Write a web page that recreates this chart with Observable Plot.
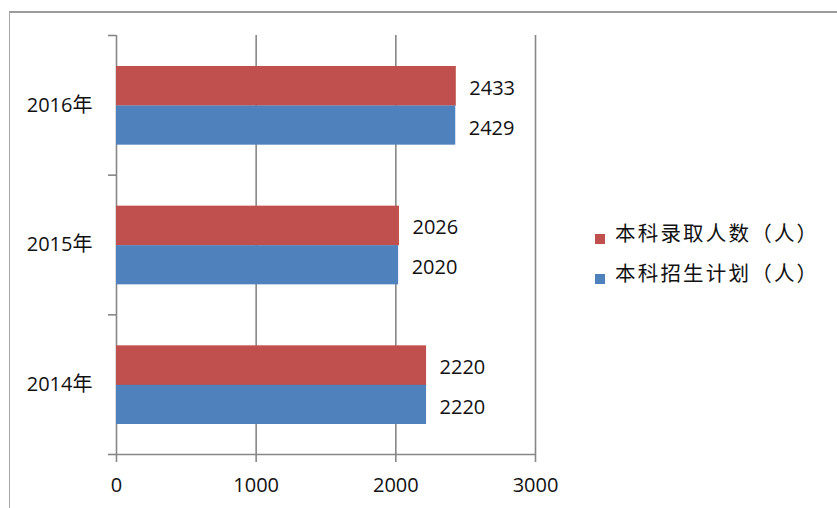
<!DOCTYPE html>
<html>
<head>
<meta charset="utf-8">
<script src="https://cdn.jsdelivr.net/npm/d3@7"></script>
<script src="https://cdn.jsdelivr.net/npm/@observablehq/plot@0.6"></script>
<style>
  html, body { margin: 0; padding: 0; background: #fff; }
  #wrap { position: relative; width: 837px; height: 508px; overflow: hidden; }
  #frame { position: absolute; left: 9px; top: 11px; right: -4px; bottom: -4px;
           border-top: 2px solid #9c9c9c; border-left: 1.5px solid #a6a6a6; }
  #chart { position: absolute; left: 0; top: 0; }
  #legend { position: absolute; left: 595px; top: 219px;
            font-family: "Noto Sans CJK SC", sans-serif; font-size: 20.5px; color: #111; letter-spacing: 2.2px; }
  .item { display: flex; align-items: flex-end; height: 28px; margin-bottom: 12px; }
  .sw { width: 10px; height: 10px; margin-right: 10px; margin-bottom: 3px; flex: none; }
</style>
</head>
<body>
<div id="wrap">
  <div id="frame"></div>
  <div id="chart"></div>
  <div id="legend"></div>
</div>
<script>
// ---- data ----
const years = [2014, 2015, 2016];
const admitted = [2220, 2026, 2433];   // 本科录取人数（人）
const planned = [2220, 2020, 2429];    // 本科招生计划（人）
const seriesNames = ["本科录取人数（人）", "本科招生计划（人）"];
const seriesColors = ["#C0504D", "#4F81BD"];
const xTicks = [0, 1000, 2000, 3000];
const yearSuffix = "年";

// table built from the arrays
const rows = years.map((year, i) => ({year, admitted: admitted[i], planned: planned[i]}));
const bounds = [years[0] - 0.5, ...years.map(y => y + 0.5)];
const grid = "#878787";

const chart = Plot.plot({
  width: 837,
  height: 508,
  marginLeft: 116,
  marginRight: 302,
  marginTop: 35,
  marginBottom: 54,
  x: {domain: [xTicks[0], xTicks[xTicks.length - 1]]},
  y: {domain: [bounds[0], bounds[bounds.length - 1]]},
  style: {
    fontFamily: "'Open Sans', 'Noto Sans CJK SC', sans-serif",
    fontSize: "20px",
    color: "#111",
    background: "transparent",
    overflow: "visible"
  },
  marks: [
    Plot.ruleX(xTicks, {stroke: grid, strokeWidth: 1.6}),
    Plot.ruleY([bounds[0]], {stroke: grid, strokeWidth: 1.6}),
    Plot.axisY(bounds, {tickSize: 8, tickFormat: () => "", label: null, stroke: grid, strokeWidth: 1.6, strokeOpacity: 1}),
    Plot.axisY(years, {tickSize: 0, tickPadding: 24, label: null, tickFormat: d => d + yearSuffix, fill: "#111"}),
    Plot.axisX(xTicks, {tickSize: 8, tickPadding: 15, label: null, tickFormat: d => String(d),
      stroke: grid, strokeWidth: 1.6, strokeOpacity: 1, fill: "#111"}),
    Plot.rectX(rows, {x1: 0, x2: "admitted", y1: d => d.year - 0.5, y2: d => d.year + 0.5,
      insetTop: 31, insetBottom: 69, fill: seriesColors[0]}),
    Plot.rectX(rows, {x1: 0, x2: "planned", y1: d => d.year - 0.5, y2: d => d.year + 0.5,
      insetTop: 70.5, insetBottom: 30, fill: seriesColors[1]}),
    Plot.text(rows, {x: "admitted", y: "year", text: d => String(d.admitted),
      dx: 13, dy: -17, textAnchor: "start", fill: "#111"}),
    Plot.text(rows, {x: "planned", y: "year", text: d => String(d.planned),
      dx: 13, dy: 23, textAnchor: "start", fill: "#111"})
  ]
});
document.getElementById("chart").appendChild(chart);

// legend
const legend = document.getElementById("legend");
seriesNames.forEach((name, i) => {
  const item = document.createElement("div");
  item.className = "item";
  const sw = document.createElement("span");
  sw.className = "sw";
  sw.style.background = seriesColors[i];
  const label = document.createElement("span");
  label.textContent = name;
  item.appendChild(sw);
  item.appendChild(label);
  legend.appendChild(item);
});
</script>
</body>
</html>
